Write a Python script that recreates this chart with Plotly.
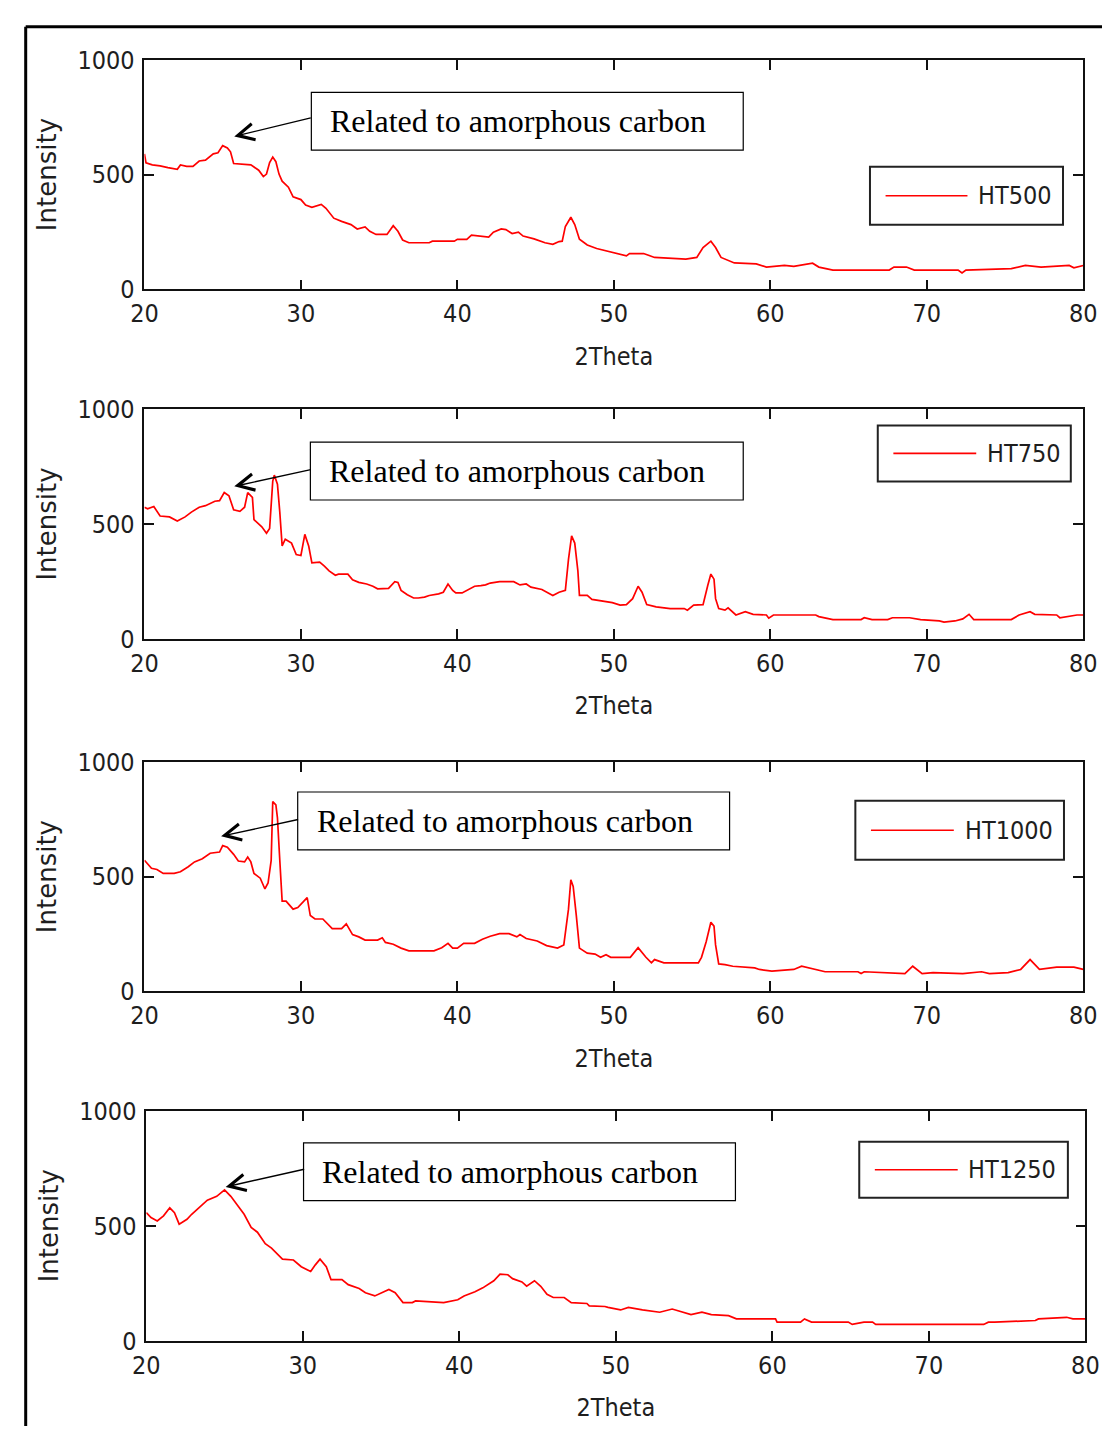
import plotly.graph_objects as go

# ---------------- data ----------------
ht500_x = [20, 20.1, 20.5, 21, 21.5, 22.1, 22.3, 22.7, 23.1, 23.5, 23.9, 24.4, 24.7, 25.0, 25.3, 25.5,
           25.7, 26.1, 26.8, 27.3, 27.6, 27.8, 28.0, 28.2, 28.4, 28.6, 28.8, 29.2, 29.5, 30.0, 30.3,
           30.7, 31.3, 31.6, 32.1, 32.6, 33.2, 33.6, 34.1, 34.4, 34.8, 35.5, 35.9, 36.2, 36.5, 36.9,
           38.2, 38.4, 39.8, 40.0, 40.6, 40.9, 41.4, 42.0, 42.3, 42.8, 43.1, 43.5, 43.9, 44.2, 44.9,
           45.6, 46.1, 46.5, 46.7, 46.9, 47.25, 47.5, 47.8, 48.3, 48.9, 50.0, 50.8, 51.0, 51.9, 52.6,
           54.6, 55.3, 55.7, 56.2, 56.5, 56.85, 57.3, 57.7, 59.1, 59.75, 60.9, 61.5, 62.7, 63.1, 64.0,
           67.6, 67.9, 68.7, 69.2, 72.0, 72.25, 72.5, 75.4, 76.3, 77.3, 79.1, 79.4, 80]
ht500_y = [590, 551, 542, 538, 530, 523, 542, 536, 536, 559, 563, 590, 595, 626, 616, 599,
           548, 545, 542, 519, 491, 502, 552, 576, 556, 502, 471, 445, 403, 391, 367,
           357, 370, 353, 310, 296, 282, 263, 272, 253, 239, 239, 277, 253, 215, 203,
           203, 210, 210, 218, 218, 236, 232, 228, 249, 263, 260, 243, 249, 232, 220,
           203, 196, 208, 210, 274, 314, 282, 218, 193, 178, 161, 146, 156, 156, 139,
           132, 139, 182, 210, 182, 139, 125, 115, 111, 97, 104, 100, 114, 97, 84,
           84, 97, 97, 84, 84, 71, 84, 90, 104, 97, 104, 94, 104]

ht750_x = [20, 20.2, 20.6, 21, 21.6, 22.1, 22.6, 23.0, 23.5, 23.9, 24.5, 24.8, 25.1, 25.4, 25.7, 26.1,
           26.4, 26.6, 26.9, 27.0, 27.5, 27.8, 28.0, 28.2, 28.3, 28.5, 28.65, 28.8, 29.0, 29.4, 29.7,
           30.0, 30.25, 30.5, 30.7, 31.2, 31.5, 31.8, 32.2, 32.4, 33.0, 33.3, 33.7, 34.2, 34.6, 34.9,
           35.6, 36.0, 36.2, 36.4, 36.8, 37.2, 37.5, 37.9, 38.2, 38.8, 39.1, 39.4, 39.7, 39.9, 40.3,
           40.7, 41.1, 41.5, 41.8, 42.1, 42.7, 43.6, 44.0, 44.4, 44.7, 45.4, 45.8, 46.1, 46.5, 46.9,
           47.1, 47.3, 47.5, 47.7, 47.8, 48.3, 48.6, 49.3, 49.9, 50.4, 50.8, 51.2, 51.55, 51.8, 52.1,
           52.7, 53.6, 54.5, 54.7, 55.1, 55.7, 56.0, 56.2, 56.4, 56.5, 56.7, 57.1, 57.3, 57.8, 58.4,
           58.9, 59.75, 59.9, 60.2, 62.9, 63.1, 64.0, 65.8, 66.0, 66.5, 67.5, 67.8, 68.9, 69.6, 70.8,
           71.1, 71.8, 72.3, 72.7, 73.0, 75.4, 75.9, 76.6, 76.9, 78.3, 78.5, 79.6, 80]
ht750_y = [573, 566, 576, 535, 531, 513, 531, 552, 573, 580, 599, 602, 637, 623, 562, 555,
           573, 637, 616, 519, 488, 460, 481, 687, 713, 673, 552, 405, 434, 417, 367,
           363, 455, 403, 331, 334, 317, 296, 277, 282, 282, 257, 246, 239, 229, 218,
           220, 249, 246, 211, 192, 178, 178, 182, 189, 196, 203, 239, 211, 200, 200,
           215, 229, 232, 235, 243, 249, 249, 235, 239, 225, 215, 200, 189, 203, 211,
           346, 448, 417, 296, 189, 189, 172, 164, 158, 147, 149, 175, 229, 203, 149,
           139, 132, 132, 125, 147, 149, 232, 282, 260, 175, 132, 125, 135, 104, 118,
           107, 104, 90, 104, 104, 97, 84, 84, 92, 84, 84, 92, 92, 84, 78,
           73, 78, 87, 107, 84, 84, 104, 118, 107, 104, 92, 104, 104]

ht1000_x = [20, 20.45, 20.8, 21.2, 21.9, 22.3, 22.8, 23.2, 23.7, 24.2, 24.8, 25.0, 25.3, 25.7, 26.0,
            26.4, 26.6, 26.8, 27.0, 27.4, 27.7, 27.9, 28.1, 28.2, 28.4, 28.5, 28.65, 28.8, 29.05,
            29.5, 29.8, 30.2, 30.4, 30.6, 30.9, 31.4, 32.0, 32.6, 32.9, 33.3, 33.7, 34.1, 34.9, 35.2,
            35.4, 35.9, 36.4, 36.9, 38.5, 39.0, 39.4, 39.7, 40.0, 40.4, 41.1, 41.6, 42.1, 42.7, 43.3,
            43.8, 44.0, 44.4, 45.1, 45.7, 46.4, 46.8, 47.1, 47.25, 47.4, 47.6, 47.8, 48.3, 48.8,
            49.15, 49.5, 49.8, 51.05, 51.55, 52.05, 52.4, 52.6, 53.2, 54.2, 55.4, 55.6, 55.9, 56.2,
            56.4, 56.5, 56.7, 57.1, 57.6, 59.0, 59.3, 60.1, 61.5, 62.0, 62.7, 63.5, 65.6, 65.8, 66.0,
            67.3, 68.0, 68.6, 69.1, 69.7, 70.4, 72.3, 73.5, 74.0, 75.2, 76.0, 76.6, 77.2, 78.3,
            79.4, 80]
ht1000_y = [571, 536, 531, 514, 514, 521, 543, 564, 578, 602, 607, 635, 628, 597, 568,
            564, 585, 564, 514, 493, 446, 472, 571, 827, 813, 756, 571, 393, 393,
            358, 365, 393, 408, 330, 315, 315, 273, 273, 294, 247, 237, 223, 223, 233,
            213, 205, 188, 176, 176, 190, 209, 188, 188, 209, 209, 227, 240, 251, 251,
            237, 247, 230, 219, 199, 188, 202, 358, 486, 457, 330, 188, 166, 162,
            148, 159, 148, 148, 190, 148, 124, 138, 124, 124, 124, 148, 216, 301,
            284, 202, 119, 116, 109, 102, 95, 88, 95, 109, 99, 85, 85, 77, 85,
            81, 77, 77, 109, 77, 81, 77, 85, 77, 81, 95, 138, 95, 105,
            105, 95]

ht1250_x = [20, 20.3, 20.7, 21.1, 21.5, 21.8, 22.1, 22.6, 22.9, 23.5, 23.9, 24.5, 25.0, 25.4, 25.8,
            26.25, 26.7, 27.1, 27.6, 28.0, 28.7, 29.4, 29.9, 30.5, 30.8, 31.1, 31.5, 31.8, 32.5,
            32.9, 33.6, 34.0, 34.6, 35.0, 35.5, 35.9, 36.4, 37.0, 37.2, 39.0, 39.9, 40.3, 41.0,
            41.5, 42.2, 42.6, 43.1, 43.4, 44.0, 44.3, 44.8, 45.2, 45.6, 46.0, 46.7, 47.15, 48.15,
            48.3, 49.3, 49.5, 50.3, 50.8, 51.7, 52.8, 53.6, 54.8, 55.5, 56.1, 57.2, 57.7, 60.2,
            60.3, 61.8, 62.05, 62.5, 64.85, 65.1, 65.85, 66.4, 66.6, 73.5, 73.8, 74.2, 76.8, 77.0,
            78.8, 79.2, 80]
ht1250_y = [557, 536, 521, 543, 578, 557, 507, 528, 550, 585, 611, 628, 656, 628, 592,
            550, 493, 472, 422, 403, 355, 351, 322, 301, 330, 355, 322, 266, 266,
            244, 227, 209, 195, 209, 223, 209, 166, 166, 173, 166, 178, 195, 213,
            230, 261, 290, 287, 270, 256, 237, 261, 237, 202, 188, 188, 166, 162,
            152, 149, 145, 134, 145, 134, 124, 138, 114, 124, 114, 109, 95, 95,
            81, 81, 95, 81, 81, 71, 81, 81, 71, 71, 81, 81, 88, 95,
            102, 95, 95]

series_names = ["HT500", "HT750", "HT1000", "HT1250"]
series_x = [ht500_x, ht750_x, ht1000_x, ht1250_x]
series_y = [ht500_y, ht750_y, ht1000_y, ht1250_y]

x_ticks = [20, 30, 40, 50, 60, 70, 80]
y_ticks = [0, 500, 1000]
note_text = "Related to amorphous carbon"
x_title = "2Theta"
y_title = "Intensity"

# arrow tips (data coords) for the annotation in each panel
arrow_tip_x = [25.74, 25.74, 24.9, 25.07]
arrow_tip_y = [666, 664, 676, 669]

# ---------------- layout helpers (pixels of the 1116x1441 canvas) ----------------
W, H = 1116, 1441
px = lambda v: v / W
py = lambda v: 1 - v / H

panels = [(133.8, 1096.8, 46.7, 281.0),
          (133.8, 1096.8, 403.3, 637.7),
          (133.8, 1096.8, 763.3, 997.3),
          (135.7, 1099.0, 1119.3, 1354.0)]
boxes = [(305, 748, 80, 139, 322),
         (304, 748, 437, 496, 321),
         (291, 734, 794, 853, 309),
         (297, 740, 1152, 1211, 314)]
arrow_tail = [(78, -19), (78, -17), (78.5, -17), (80, -18)]
legend_boxes = [(878, 1076, 156, 215, 894, 978, 987),
                (886, 1084, 420, 477, 902, 987, 996),
                (863, 1077, 803, 863, 879, 964, 973),
                (867, 1081, 1151, 1208, 883, 968, 976)]

NARROW = "Liberation Sans Narrow, Arial Narrow, DejaVu Sans Condensed, sans-serif"
TICKFONT = dict(family=NARROW, size=25, color="#1e1e1e")
YTITLEFONT = dict(family="DejaVu Sans, sans-serif", size=26, color="#1e1e1e")
SERIF = dict(family="Liberation Serif, Times New Roman, serif", size=32, color="black")

fig = go.Figure()
shapes = []
annotations = []
layout_axes = {}

for i in range(4):
    xa = "x" if i == 0 else f"x{i+1}"
    ya = "y" if i == 0 else f"y{i+1}"
    fig.add_trace(go.Scatter(x=series_x[i], y=series_y[i], mode="lines", name=series_names[i],
                             line=dict(color="#ff0000", width=1.7),
                             xaxis=xa, yaxis=ya, showlegend=False))
    l, r, t, b = panels[i]
    axis_common = dict(showline=True, linecolor="#111", linewidth=1.6, mirror="ticks",
                       ticks="inside", ticklen=10, tickwidth=1.5, tickcolor="#111",
                       showgrid=False, zeroline=False, tickfont=TICKFONT)
    layout_axes["xaxis" if i == 0 else f"xaxis{i+1}"] = dict(
        domain=[px(l), px(r)], range=[20, 80], tickvals=x_ticks, anchor=ya,
        ticklabelstandoff=1,
        title=dict(text=x_title, font=TICKFONT, standoff=20), **axis_common)
    layout_axes["yaxis" if i == 0 else f"yaxis{i+1}"] = dict(
        domain=[py(b), py(t)], range=[0, 1000], tickvals=y_ticks, anchor=xa,
        ticklabelstandoff=3,
        title=dict(text=y_title, font=YTITLEFONT, standoff=13), **axis_common)

    # note box, its text and the arrow pointing at the broad hump
    bl, br, bt, bb, tl = boxes[i]
    shapes.append(dict(type="rect", xref="paper", yref="paper", x0=px(bl), x1=px(br),
                       y0=py(bb), y1=py(bt), line=dict(color="black", width=1.2),
                       fillcolor="white", layer="above"))
    annotations.append(dict(xref="paper", yref="paper", x=px(tl), y=py((bt + bb) / 2),
                            xanchor="left", yanchor="middle", text=note_text,
                            showarrow=False, font=SERIF))
    annotations.append(dict(xref=xa, yref=ya, x=arrow_tip_x[i], y=arrow_tip_y[i],
                            ax=arrow_tail[i][0], ay=arrow_tail[i][1], text="",
                            showarrow=True, arrowhead=5, arrowsize=2.3, arrowwidth=1.4,
                            arrowcolor="black", standoff=0, startstandoff=0))

    # MATLAB-style legend box
    gl, gr, gt, gb, ls0, ls1, gtx = legend_boxes[i]
    gy = (gt + gb) / 2
    shapes.append(dict(type="rect", xref="paper", yref="paper", x0=px(gl), x1=px(gr),
                       y0=py(gb), y1=py(gt), line=dict(color="#222", width=2),
                       fillcolor="white", layer="above"))
    shapes.append(dict(type="line", xref="paper", yref="paper", x0=px(ls0), x1=px(ls1),
                       y0=py(gy), y1=py(gy), line=dict(color="#ff0000", width=1.7),
                       layer="above"))
    annotations.append(dict(xref="paper", yref="paper", x=px(gtx), y=py(gy),
                            xanchor="left", yanchor="middle", text=series_names[i],
                            showarrow=False, font=TICKFONT))

# outer frame (top and left edges visible in the picture)
shapes.append(dict(type="line", xref="paper", yref="paper", x0=px(12), x1=1.0,
                   y0=py(13), y1=py(13), line=dict(color="black", width=3)))
shapes.append(dict(type="line", xref="paper", yref="paper", x0=px(12), x1=px(12),
                   y0=py(13), y1=0.0, line=dict(color="black", width=3)))

fig.update_layout(width=W, height=H, autosize=False, margin=dict(l=0, r=0, t=0, b=0),
                  paper_bgcolor="white", plot_bgcolor="white",
                  shapes=shapes, annotations=annotations, **layout_axes)
fig.write_html("out.html", config={"responsive": False},
               post_script="document.body.style.margin='0';document.body.style.overflow='hidden';")
